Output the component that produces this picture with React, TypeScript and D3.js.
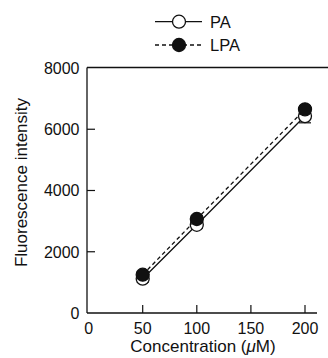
import * as d3 from "d3";

const concentrations = [50, 100, 200];
const paValues = [1120, 2880, 6430];
const paErrors = [120, 120, 220];
const lpaValues = [1250, 3070, 6650];
const lpaErrors = [110, 110, 120];
const xTicks = [50, 100, 150, 200];
const yTicks = [2000, 4000, 6000];

const W = 328;
const H = 358;
const font = "'Liberation Sans', Arial, Helvetica, sans-serif";

export default function App() {
  const x = d3.scaleLinear().domain([0, 50]).range([88.6, 142.7]);
  const y = d3.scaleLinear().domain([0, 8000]).range([313, 68]);
  const line = d3
    .line<number>()
    .x((_, i) => x(concentrations[i]))
    .y((d) => y(d));

  const series = [
    { name: "PA", values: paValues, errors: paErrors, fill: "#fff", dash: undefined },
    { name: "LPA", values: lpaValues, errors: lpaErrors, fill: "#111", dash: "4,3" },
  ];

  return (
    <div style={{ position: "absolute", left: 0, top: 0 }}>
      <svg width={W} height={H} style={{ display: "block", background: "#fff" }} fontFamily={font}>
        {/* axes frame */}
        <line x1={87} x2={87} y1={67.5} y2={313} stroke="#111" strokeWidth={1.3} />
        <line x1={87} x2={328} y1={67.5} y2={67.5} stroke="#111" strokeWidth={1.3} />
        <line x1={87} x2={317} y1={313} y2={313} stroke="#111" strokeWidth={1.3} />

        {xTicks.map((t) => (
          <line key={"xt" + t} x1={x(t)} x2={x(t)} y1={313} y2={305} stroke="#111" strokeWidth={1.2} />
        ))}
        {[0, ...xTicks].map((t) => (
          <text key={"xl" + t} x={x(t)} y={334} textAnchor="middle" fontSize={16} fill="#111">
            {t}
          </text>
        ))}
        {yTicks.map((t) => (
          <line key={"yt" + t} x1={87} x2={95} y1={y(t)} y2={y(t)} stroke="#111" strokeWidth={1.2} />
        ))}
        {[0, ...yTicks, 8000].map((t) => (
          <text key={"yl" + t} x={79.5} y={y(t) + 5.8} textAnchor="end" fontSize={16} fill="#111">
            {t}
          </text>
        ))}

        <text x={203} y={352} textAnchor="middle" fontSize={17} fill="#111">
          Concentration (<tspan fontStyle="italic">μ</tspan>M)
        </text>
        <text
          transform="translate(27,182.5) rotate(-90)"
          textAnchor="middle"
          fontSize={17}
          fill="#111"
        >
          Fluorescence intensity
        </text>

        {/* series */}
        {series.map((s) => (
          <g key={s.name}>
            <path d={line(s.values) ?? ""} fill="none" stroke="#111" strokeWidth={1.3} strokeDasharray={s.dash} />
            {s.values.map((v, i) => {
              const cx = x(concentrations[i]);
              const lo = y(v - s.errors[i]);
              const hi = y(v + s.errors[i]);
              return (
                <g key={i}>
                  <line x1={cx} x2={cx} y1={lo} y2={hi} stroke="#111" strokeWidth={1.2} />
                  <line x1={cx - 6} x2={cx + 6} y1={lo} y2={lo} stroke="#111" strokeWidth={1.2} />
                  <line x1={cx - 6} x2={cx + 6} y1={hi} y2={hi} stroke="#111" strokeWidth={1.2} />
                  <circle cx={cx} cy={y(v)} r={6.5} fill={s.fill} stroke="#111" strokeWidth={1.3} />
                </g>
              );
            })}
          </g>
        ))}

        {/* legend */}
        {series.map((s, i) => {
          const ly = 21.7 + i * 23.3;
          return (
            <g key={"lg" + s.name}>
              <line x1={155} x2={202} y1={ly} y2={ly} stroke="#111" strokeWidth={1.3} strokeDasharray={s.dash} />
              <circle cx={179} cy={ly} r={6.5} fill={s.fill} stroke="#111" strokeWidth={1.3} />
              <text x={210} y={ly + 6.3} fontSize={16.5} fill="#111">
                {s.name}
              </text>
            </g>
          );
        })}
      </svg>
    </div>
  );
}
